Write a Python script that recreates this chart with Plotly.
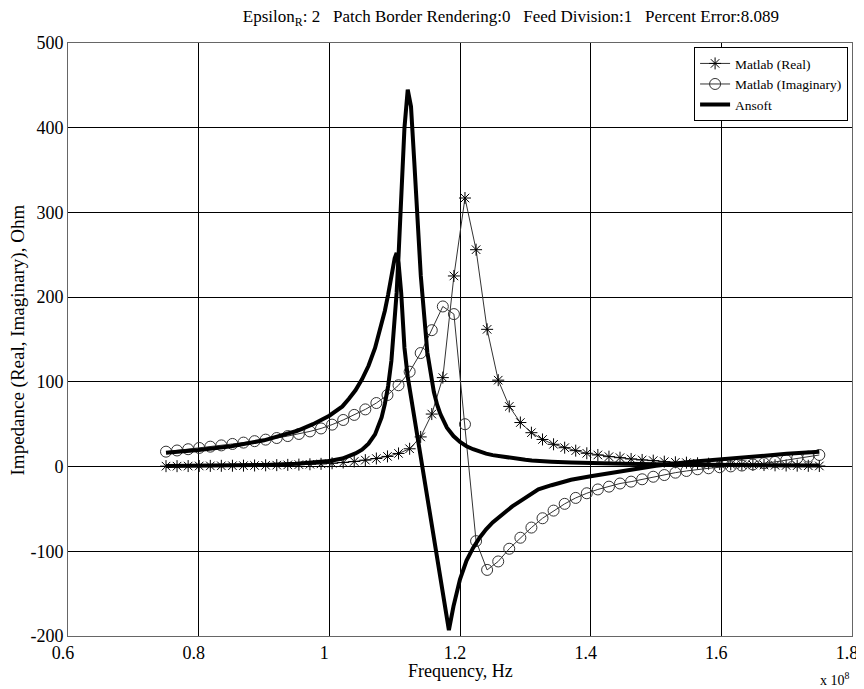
import plotly.graph_objects as go

# Frequencies of the Matlab samples (units of 1e8 Hz)
matlab_freq = [0.7500, 0.7669, 0.7839, 0.8008, 0.8178, 0.8347, 0.8517, 0.8686, 0.8856, 0.9025,
               0.9195, 0.9364, 0.9534, 0.9703, 0.9873, 1.0042, 1.0212, 1.0381, 1.0551, 1.0720,
               1.0890, 1.1059, 1.1229, 1.1398, 1.1568, 1.1737, 1.1907, 1.2076, 1.2246, 1.2415,
               1.2585, 1.2754, 1.2924, 1.3093, 1.3263, 1.3432, 1.3602, 1.3771, 1.3941, 1.4110,
               1.4280, 1.4449, 1.4619, 1.4788, 1.4958, 1.5127, 1.5297, 1.5466, 1.5636, 1.5805,
               1.5975, 1.6144, 1.6314, 1.6483, 1.6653, 1.6822, 1.6992, 1.7161, 1.7331, 1.7500]

matlab_real = [0.5, 0.5, 0.6, 0.7, 0.8, 0.9, 1.0, 1.1, 1.3, 1.5,
               1.7, 2.0, 2.3, 2.7, 3.2, 3.9, 4.8, 6.0, 7.6, 9.5,
               12, 15.5, 21, 35, 62, 105, 225, 317, 256, 162,
               102, 71, 52, 40, 32, 26.3, 22.3, 18.8, 15.7, 13.7,
               11.7, 10.5, 9.0, 7.8, 7.0, 5.8, 5.0, 4.6, 3.9, 3.4,
               3.0, 2.6, 2.3, 2.0, 1.8, 1.5, 1.3, 1.1, 0.9, 0.7]

matlab_imag = [17.6, 19.0, 20.5, 22.0, 23.5, 25.0, 26.7, 28.3, 30.0, 31.8,
               33.7, 36.0, 38.5, 41.5, 45.0, 49.5, 55.0, 61.0, 67.5, 75.0,
               84.5, 96.0, 112, 134, 161, 189, 180, 50, -88, -122,
               -112, -97, -84, -72, -61, -52, -44, -37, -31.5, -27,
               -23.7, -20, -17.8, -15, -12, -10, -7.2, -5.2, -3.2, -2,
               -0.8, 0.2, 1.2, 2.5, 4.0, 5.5, 7.5, 9.8, 11.7, 13.7]

# Ansoft simulation (units of 1e8 Hz)
ansoft_freq = [0.75, 0.80, 0.85, 0.90, 0.95, 0.975, 1.00, 1.02, 1.03, 1.04,
               1.05, 1.06, 1.07, 1.08, 1.085, 1.09, 1.095, 1.10, 1.103, 1.106,
               1.11, 1.115, 1.12, 1.125, 1.13, 1.135, 1.14, 1.15, 1.155, 1.16,
               1.165, 1.17, 1.18, 1.183, 1.19, 1.20, 1.21, 1.22, 1.23, 1.24,
               1.25, 1.27, 1.28, 1.29, 1.30, 1.31, 1.32, 1.34, 1.37, 1.40,
               1.45, 1.50, 1.55, 1.60, 1.65, 1.70, 1.75]

ansoft_real = [0.6, 0.8, 1.2, 2.0, 3.4, 4.6, 6.5, 9.5, 12, 15.5,
               20, 27, 38, 58, 74, 95, 125, 168, 205, 250,
               320, 400, 445, 425, 360, 290, 225, 135, 108, 88,
               73, 62, 46, 43, 36, 29, 24, 20.5, 17.5, 15.3,
               13.5, 11, 10, 9, 8, 7.3, 6.6, 5.8, 4.8, 4.0,
               3.2, 2.6, 2.2, 1.9, 1.6, 1.4, 1.2]

ansoft_imag = [16.4, 19.5, 24, 31, 42, 50, 60, 71, 80, 90,
               103, 119, 140, 167, 184, 203, 228, 246, 252, 240,
               205, 140, 106, 82, 57, 33, 9, -40, -64, -88,
               -112, -137, -182, -193, -165, -133, -111, -96, -84, -74,
               -66, -53, -47, -42, -37, -32, -27, -22, -15.5, -11.5,
               -5, 1, 5.5, 9, 12, 15, 17.6]

x_ticks = [0.6, 0.8, 1.0, 1.2, 1.4, 1.6, 1.8]
x_tick_labels = ["0.6", "0.8", "1", "1.2", "1.4", "1.6", "1.8"]
y_ticks = [-200, -100, 0, 100, 200, 300, 400, 500]
y_tick_labels = ["-200", "-100", "0", "100", "200", "300", "400", "500"]

FONT = "Liberation Serif, Times New Roman, serif"

fig = go.Figure()
fig.add_trace(go.Scatter(
    x=matlab_freq, y=matlab_real, mode="lines+markers", name="Matlab (Real)",
    line=dict(color="#333333", width=1),
    marker=dict(symbol="asterisk-open", size=10, color="#000000", line=dict(width=1, color="#000000")),
))
fig.add_trace(go.Scatter(
    x=matlab_freq, y=matlab_imag, mode="lines+markers", name="Matlab (Imaginary)",
    line=dict(color="#333333", width=1),
    marker=dict(symbol="circle-open", size=11, color="#333333", line=dict(width=1, color="#333333")),
))
fig.add_trace(go.Scatter(
    x=ansoft_freq, y=ansoft_real, mode="lines", name="Ansoft", legendgroup="ansoft",
    line=dict(color="#000000", width=4),
))
fig.add_trace(go.Scatter(
    x=ansoft_freq, y=ansoft_imag, mode="lines", name="Ansoft", legendgroup="ansoft",
    showlegend=False, line=dict(color="#000000", width=4),
))

axis_common = dict(
    showgrid=True, gridcolor="#000000", gridwidth=1,
    showline=True, linecolor="#666666", linewidth=1, mirror=True,
    ticks="inside", ticklen=5, tickcolor="#000000",
    zeroline=False, automargin=False,
    tickfont=dict(family=FONT, size=18, color="#000000"),
)

fig.update_layout(
    width=856, height=681,
    margin=dict(l=60, r=12, t=35, b=53),
    paper_bgcolor="white", plot_bgcolor="white",
    font=dict(family=FONT, color="#000000"),
    title=dict(
        text="Epsilon<sub>R</sub>: 2   Patch Border Rendering:0   Feed Division:1   Percent Error:8.089",
        x=0.565, xanchor="center", xref="paper", y=0.997, yanchor="top",
        font=dict(family=FONT, size=17, color="#000000"),
    ),
    xaxis=dict(range=[0.6, 1.8], tickvals=x_ticks, ticktext=x_tick_labels,
               ticklabelshift=-5, ticklabelstandoff=0, **axis_common),
    yaxis=dict(range=[-200, 500], tickvals=y_ticks, ticktext=y_tick_labels, **axis_common),
    legend=dict(x=0.995, y=0.993, xanchor="right", yanchor="top",
                bgcolor="white", bordercolor="#000000", borderwidth=1,
                font=dict(family=FONT, size=13.5, color="#000000"),
                tracegroupgap=0, itemwidth=30),
    showlegend=True,
    annotations=[
        dict(text="Frequency, Hz", xref="paper", yref="paper", x=0.5, y=-0.059,
             xanchor="center", yanchor="middle", showarrow=False,
             font=dict(family=FONT, size=18, color="#000000")),
        dict(text="Impedance (Real, Imaginary), Ohm", xref="paper", yref="paper",
             x=-0.0638, y=0.5, xanchor="center", yanchor="middle", textangle=-90,
             showarrow=False, font=dict(family=FONT, size=19, color="#000000")),
        dict(text="x 10<sup>8</sup>", xref="paper", yref="paper",
             x=1.0, y=-0.054, xanchor="right", yanchor="top", showarrow=False,
             font=dict(family=FONT, size=14, color="#000000")),
    ],
)

fig.write_html("out.html")
